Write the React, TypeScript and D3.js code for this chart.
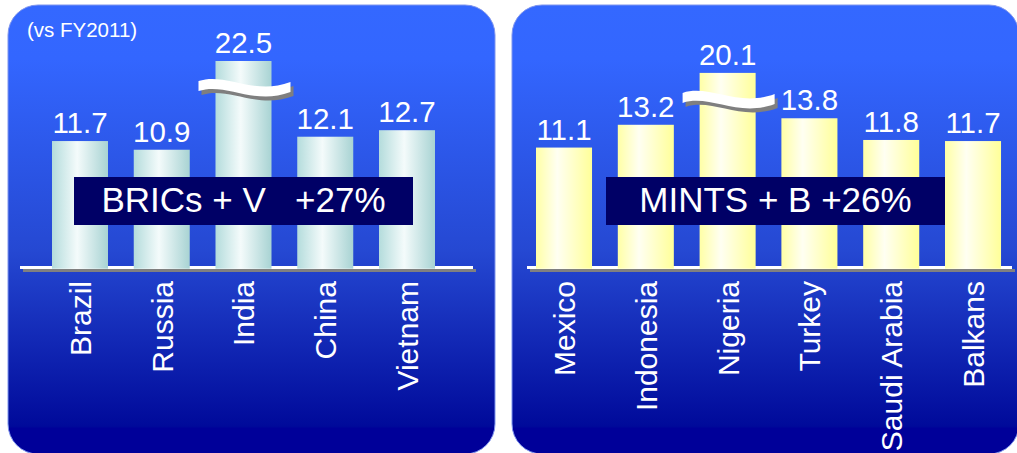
import React from "react";
import * as d3 from "d3";

const leftCategories = ["Brazil", "Russia", "India", "China", "Vietnam"];
const leftValues = [11.7, 10.9, 22.5, 12.1, 12.7];
const rightCategories = ["Mexico", "Indonesia", "Nigeria", "Turkey", "Saudi Arabia", "Balkans"];
const rightValues = [11.1, 13.2, 20.1, 13.8, 11.8, 11.7];
const leftTitle = "BRICs + V   +27%";
const rightTitle = "MINTS + B +26%";
const note = "(vs FY2011)";
const BREAK_VALUE = 16.2;
const MAX_VALUE = 22.5;

const W = 1017;
const H = 453;
const BASE_Y = 268;
const FONT = "Liberation Sans, Arial, sans-serif";

const y = d3
  .scaleLinear()
  .domain([0, BREAK_VALUE, MAX_VALUE])
  .range([BASE_Y, BASE_Y - BREAK_VALUE * 10.85, 61]);

function BreakMark({ x0, x1, yc }: { x0: number; x1: number; yc: number }) {
  const w = x1 - x0;
  const t = 10;
  const top = `M${x0},${yc - 6} C${x0 + 0.3 * w},${yc - 15} ${x0 + 0.6 * w},${yc + 9} ${x1},${yc - 5}`;
  const d =
    top +
    ` L${x1},${yc - 5 + t} C${x0 + 0.6 * w},${yc + 9 + t} ${x0 + 0.3 * w},${yc - 15 + t} ${x0},${yc - 6 + t} Z`;
  return (
    <g>
      <path d={d} transform="translate(3,4)" fill="#7f7f7f" />
      <path d={d} fill="#ffffff" />
    </g>
  );
}

function Panel({
  categories,
  values,
  x0,
  x1,
  bandStart,
  step,
  title,
  boxX0,
  boxX1,
  gradId,
  lineX0,
  lineX1,
}: {
  categories: string[];
  values: number[];
  x0: number;
  x1: number;
  bandStart: number;
  step: number;
  title: string;
  boxX0: number;
  boxX1: number;
  gradId: string;
  lineX0: number;
  lineX1: number;
}) {
  const pi = 0.315;
  const x = d3
    .scaleBand<string>()
    .domain(categories)
    .range([bandStart, bandStart + categories.length * step])
    .paddingInner(pi)
    .paddingOuter(pi / 2);
  const bw = x.bandwidth();
  return (
    <g>
      <rect x={x0} y={5} width={x1 - x0} height={449} rx={30} ry={30} fill="url(#panelGrad)" stroke="#7f95ee" strokeWidth={1} />
      <rect x={lineX0 + 3} y={BASE_Y + 1} width={lineX1 - lineX0} height={3} fill="#808080" />
      <rect x={lineX0} y={BASE_Y - 2} width={lineX1 - lineX0} height={3} fill="#ffffff" />
      {categories.map((c, i) => {
        const v = values[i];
        const bx = x(c)!;
        const top = y(v);
        const cx = bx + bw / 2;
        return (
          <g key={c}>
            <rect x={bx} y={top} width={bw} height={BASE_Y + 0.7 - top} fill={`url(#${gradId})`} />
            <text x={cx} y={top - 8} textAnchor="middle" fontFamily={FONT} fontSize={29.5} fill="#ffffff">
              {v.toFixed(1)}
            </text>
            {v > BREAK_VALUE && <BreakMark x0={bx - 17} x1={bx + bw + 19} yc={top + 26} />}
            <text
              transform={`translate(${cx + 11},${281}) rotate(-90)`}
              textAnchor="end"
              fontFamily={FONT}
              fontSize={30}
              fill="#ffffff"
            >
              {c}
            </text>
          </g>
        );
      })}
      <rect x={boxX0} y={177} width={boxX1 - boxX0} height={48} fill="#000066" />
      <text
        x={(boxX0 + boxX1) / 2}
        y={212}
        textAnchor="middle"
        fontFamily={FONT}
        fontSize={35}
        fill="#ffffff"
        style={{ whiteSpace: "pre" }}
      >
        {title}
      </text>
    </g>
  );
}

export default function App() {
  return (
    <svg
      width={W}
      height={H}
      viewBox={`0 0 ${W} ${H}`}
      style={{ position: "absolute", left: 0, top: 0, display: "block", background: "#ffffff" }}
    >
      <defs>
        <linearGradient id="panelGrad" gradientUnits="userSpaceOnUse" x1={0} y1={5} x2={0} y2={453}>
          <stop offset="0" stopColor="#3468ff" />
          <stop offset="0.12" stopColor="#3366ff" />
          <stop offset="0.55" stopColor="#2548d2" />
          <stop offset="0.94" stopColor="#000a9a" />
          <stop offset="0.945" stopColor="#000099" />
          <stop offset="1" stopColor="#000099" />
        </linearGradient>
        <linearGradient id="tealGrad" x1="0" y1="0" x2="1" y2="0">
          <stop offset="0" stopColor="#b4dcdc" />
          <stop offset="0.45" stopColor="#f4fbfb" />
          <stop offset="1" stopColor="#a8d3d3" />
        </linearGradient>
        <linearGradient id="yellowGrad" x1="0" y1="0" x2="1" y2="0">
          <stop offset="0" stopColor="#ffffa6" />
          <stop offset="0.38" stopColor="#fffff2" />
          <stop offset="1" stopColor="#ffff99" />
        </linearGradient>
      </defs>
      <Panel
        categories={leftCategories}
        values={leftValues}
        x0={8}
        x1={495}
        bandStart={52 - 0.1575 * 81.75}
        step={81.75}
        title={leftTitle}
        boxX0={74}
        boxX1={413}
        gradId="tealGrad"
        lineX0={20}
        lineX1={473}
      />
      <Panel
        categories={rightCategories}
        values={rightValues}
        x0={512}
        x1={1019}
        bandStart={536 - 0.1575 * 81.8}
        step={81.8}
        title={rightTitle}
        boxX0={606}
        boxX1={945}
        gradId="yellowGrad"
        lineX0={527}
        lineX1={1012}
      />
      <text x={27} y={37} fontFamily={FONT} fontSize={20.5} fill="#ffffff">
        {note}
      </text>
    </svg>
  );
}
